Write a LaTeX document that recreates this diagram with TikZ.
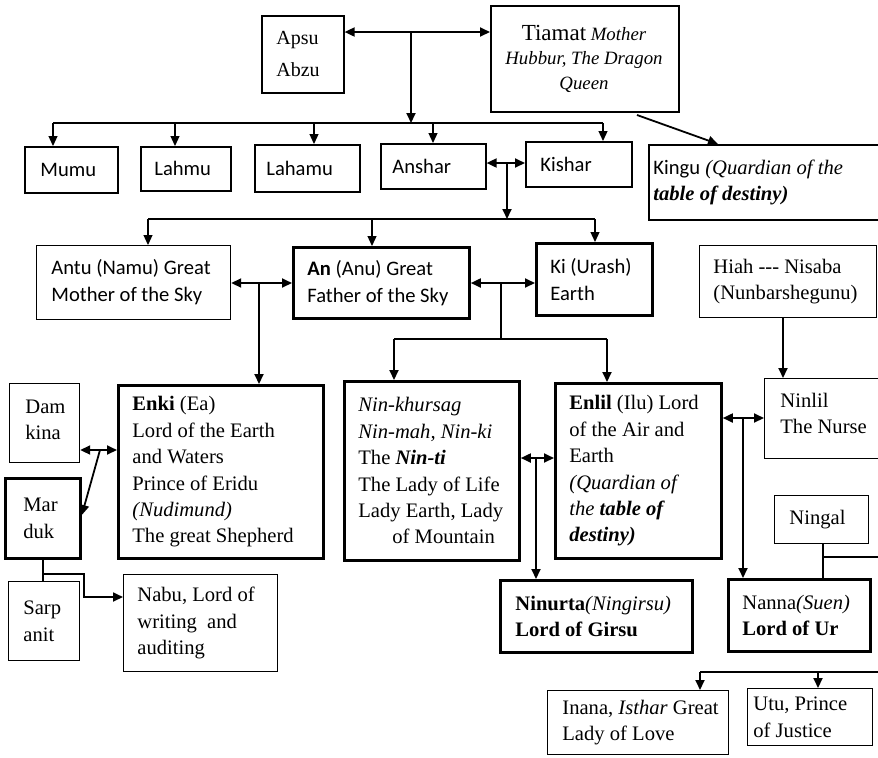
\documentclass[tikz,border=0pt]{standalone}
\usepackage{fontspec}
\setmainfont{Liberation Serif}
\newfontfamily\calfont{Carlito}
\usetikzlibrary{arrows.meta}
\tikzset{
  thinbox/.style={draw, line width=0.6pt},
  medbox/.style={draw, line width=0.8pt},
  thickbox/.style={draw, line width=1.4pt},
  txt/.style={align=left, inner sep=0pt, font=\fontsize{10.3pt}{13.2pt}\selectfont},
  stxt/.style={align=left, inner sep=0pt, font=\calfont\fontsize{10.3pt}{13.5pt}\selectfont},
  conn/.style={line width=0.9pt, -{Triangle[length=5pt,width=4.5pt]}},
  dconn/.style={line width=0.9pt, {Triangle[length=5pt,width=4.5pt]}-{Triangle[length=5pt,width=4.5pt]}},
  wire/.style={line width=0.6pt},
  tconn/.style={line width=0.6pt, -{Triangle[length=5pt,width=4.5pt]}},
}
\newcommand{\gbox}[9]{%
  \pgfmathsetmacro\gbW{(#5-#3)*0.5}%
  \pgfmathsetmacro\gbH{(#6-#4)*0.5}%
  \node[#1, anchor=north west, minimum width=\gbW pt, minimum height=\gbH pt, inner sep=0pt] (#2) at (#3,#4) {};
  \node[#8, anchor=west] (#2-t) at ([xshift=#7*0.5pt]#2.west) {#9};}
\begin{document}
\begin{tikzpicture}[x=0.5pt,y=-0.5pt]
\useasboundingbox (0,0) rectangle (878,757);
\clip (0,0) rectangle (878,757);
% boxes
\gbox{medbox}{apsu}{261}{15}{343}{92}{15}{txt, font=\fontsize{10pt}{16pt}\selectfont}{Apsu\\Abzu}
\gbox{medbox}{tiamat}{490}{5}{678}{111}{15}{txt, align=center, font=\fontsize{9.4pt}{12.2pt}\selectfont}{{\fontsize{11.5pt}{12.2pt}\selectfont Tiamat} \textit{Mother}\\\textit{Hubbur, The Dragon}\\\textit{Queen}}
\gbox{medbox}{mumu}{24}{146}{117}{192}{16}{stxt}{Mumu}
\gbox{medbox}{lahmu}{140}{146}{230}{190}{14}{stxt}{Lahmu}
\gbox{medbox}{lahamu}{254}{144}{359}{191}{12}{stxt}{Lahamu}
\gbox{medbox}{anshar}{380}{143}{485}{188}{12}{stxt}{Anshar}
\gbox{medbox}{kishar}{525}{141}{631}{186}{15}{stxt}{Kishar}
\gbox{medbox}{kingu}{648}{144}{884}{219}{5}{txt}{{\calfont Kingu} \textit{(Quardian of the}\\\textbf{\textit{table of destiny)}}}
\gbox{thinbox}{antu}{36}{245}{230}{319}{15}{stxt}{Antu (Namu) Great\\Mother of the Sky}
\gbox{thickbox}{an}{292}{246}{468}{317}{15}{stxt}{\textbf{An} (Anu) Great\\Father of the Sky}
\gbox{thickbox}{ki}{535}{242}{651}{314}{15}{stxt}{Ki (Urash)\\Earth}
\gbox{thinbox}{hiah}{699}{245}{876}{317}{14}{txt}{Hiah -{}-{}- Nisaba\\(Nunbarshegunu)}
\gbox{thinbox}{damkina}{9}{383}{79}{462}{16}{txt, yshift=1.5pt}{Dam\\kina}
\gbox{thickbox}{marduk}{4}{477}{79}{557}{19}{txt}{Mar\\duk}
\gbox{thinbox}{sarpanit}{8}{581}{79}{660}{15}{txt}{Sarp\\anit}
\gbox{thinbox}{nabu}{123}{574}{277}{671}{14}{txt}{Nabu, Lord of\\writing\ \ and\\auditing}
\gbox{thickbox}{enki}{117}{384}{322}{557}{15}{txt}{\textbf{Enki} (Ea)\\Lord of the Earth\\and Waters\\Prince of Eridu\\\textit{(Nudimund)}\\The great Shepherd}
\gbox{thickbox}{ninkh}{343}{380}{518}{559}{15}{txt}{\textit{Nin-khursag}\\\textit{Nin-mah, Nin-ki}\\The \textbf{\textit{Nin-ti}}\\The Lady of Life\\Lady Earth, Lady\\\hspace*{17pt}of Mountain}
\gbox{thickbox}{enlil}{554}{382}{720}{557}{15}{txt}{\textbf{Enlil} (Ilu) Lord\\of the Air and\\Earth\\\textit{(Quardian of}\\\textit{the \textbf{table of}}\\\textbf{\textit{destiny)}}}
\gbox{thinbox}{ninlil}{764}{378}{884}{458}{16}{txt, yshift=2.5pt}{Ninlil\\The Nurse}
\gbox{thinbox}{ningal}{774}{495}{868}{543}{15}{txt}{Ningal}
\gbox{thickbox}{ninurta}{499}{579}{691}{651}{16}{txt}{\textbf{Ninurta}\textit{(Ningirsu)}\\\textbf{Lord of Girsu}}
\gbox{thickbox}{nanna}{727}{578}{869}{650}{15}{txt}{Nanna\textit{(Suen)}\\\textbf{Lord of Ur}}
\gbox{thinbox}{inana}{547}{690}{728}{754}{15}{txt}{Inana, \textit{Isthar} Great\\Lady of Love}
\gbox{thinbox}{utu}{747}{688}{872}{745}{6}{txt}{Utu, Prince\\of Justice}
% top connectors
\coordinate (j1) at (411,32);
\draw[dconn] (apsu.east |- j1) -- (tiamat.west |- j1);
\coordinate (b1L) at (53,123); \coordinate (b1R) at (603,123);
\draw[conn] (j1) -- (j1 |- b1L);
\draw[wire] (b1L) -- (b1R);
\foreach \n/\x in {mumu/53, lahmu/175, lahamu/314, anshar/433, kishar/603}{
  \coordinate (t) at (\x,123);
  \draw[tconn] (t) -- (t |- \n.north);}
\coordinate (tk1) at (637,115); \coordinate (tk2) at (718,0);
\draw[conn] (tk1) -- (tk2 |- kingu.north);
% Anshar / Kishar
\coordinate (j2) at (507,163);
\draw[dconn] (anshar.east |- j2) -- (kishar.west |- j2);
\coordinate (b2L) at (148,219); \coordinate (b2R) at (595,219);
\draw[conn] (j2) -- (j2 |- b2L);
\draw[wire] (b2L) -- (b2R);
\foreach \n/\x in {antu/148, an/372, ki/595}{
  \coordinate (t) at (\x,219);
  \draw[tconn] (t) -- (t |- \n.north);}
% Antu / An
\coordinate (j3) at (259,283);
\draw[dconn] (antu.east |- j3) -- (an.west |- j3);
\draw[conn] (j3) -- (j3 |- enki.north);
% An / Ki
\coordinate (j4) at (501,283);
\draw[dconn] (an.east |- j4) -- (ki.west |- j4);
\coordinate (b3L) at (394,339); \coordinate (b3R) at (607,339);
\draw[wire] (j4) -- (j4 |- b3L);
\draw[wire] (b3L) -- (b3R);
\draw[conn] (b3L) -- (b3L |- ninkh.north);
\draw[conn] (b3R) -- (b3R |- enlil.north);
% Hiah -> Ninlil
\coordinate (h1) at (783,0);
\draw[conn] (h1 |- hiah.south) -- (h1 |- ninlil.north);
% Damkina / Enki / Marduk
\coordinate (j5) at (100,450);
\draw[dconn] (damkina.east |- j5) -- (enki.west |- j5);
\coordinate (m1) at (0,515);
\draw[conn] (j5) -- (marduk.east |- m1);
% Marduk / Sarpanit / Nabu
\coordinate (s1) at (43,574); \coordinate (s2) at (84,597);
\draw[wire] (s1 |- marduk.south) -- (s1 |- sarpanit.north);
\draw[conn] (s1) -| (s2) -- (nabu.west |- s2);
% Ninkhursag / Enlil
\coordinate (j6) at (536,458);
\draw[dconn] (ninkh.east |- j6) -- (enlil.west |- j6);
\draw[conn] (j6) -- (j6 |- ninurta.north);
% Enlil / Ninlil
\coordinate (j7) at (743,418);
\draw[dconn] (enlil.east |- j7) -- (ninlil.west |- j7);
\draw[conn] (j7) -- (j7 |- nanna.north);
% Ningal
\coordinate (g1) at (823,557); \coordinate (gR) at (884,557);
\draw[wire] (g1 |- ningal.south) -- (g1 |- nanna.north);
\draw[wire] (g1) -- (gR);
% bottom bus
\coordinate (b4L) at (700,672); \coordinate (b4U) at (818,672); \coordinate (b4R) at (884,672);
\draw[wire] (b4L) -- (b4R);
\draw[conn] (b4L) -- (b4L |- inana.north);
\draw[conn] (b4U) -- (b4U |- utu.north);
\end{tikzpicture}
\end{document}
